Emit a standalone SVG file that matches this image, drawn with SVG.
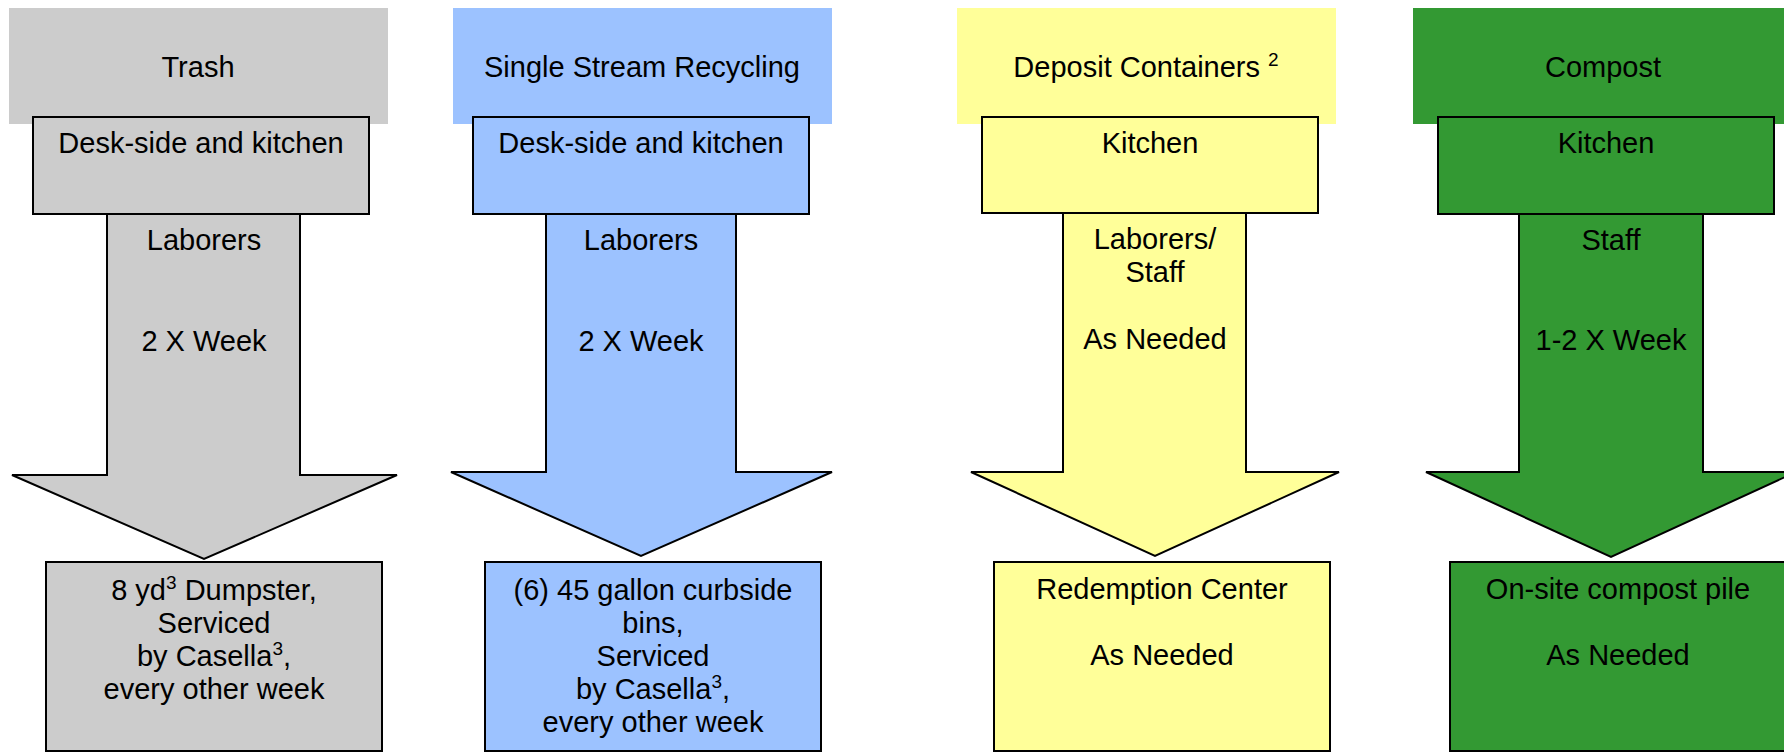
<svg xmlns="http://www.w3.org/2000/svg" width="1784" height="753" viewBox="0 0 1784 753">
<style>
text{font-family:"Liberation Sans",Arial,sans-serif;font-size:29px;fill:#000;text-anchor:middle}
.box,.arrow{stroke:#000;stroke-width:2}
.gray{fill:#CCCCCC}.blue{fill:#9CC2FF}.yellow{fill:#FFFF99}.green{fill:#339933}
.sup{font-size:19px}
</style>
<rect width="1784" height="753" fill="#fff"/>
<g id="headers">
<g id="h-trash"><rect class="gray" x="9" y="8" width="379" height="116"/><text x="198" y="77">Trash</text></g>
<g id="h-recycling"><rect class="blue" x="453" y="8" width="379" height="116"/><text x="642" y="77">Single Stream Recycling</text></g>
<g id="h-deposit"><rect class="yellow" x="957" y="8" width="379" height="116"/><text x="1146" y="77">Deposit Containers <tspan class="sup" dy="-11">2</tspan></text></g>
<g id="h-compost"><rect class="green" x="1413" y="8" width="379" height="116"/><text x="1603" y="77">Compost</text></g>
</g>
<g id="connectors">
<g id="a-trash"><polygon class="arrow gray" points="107,214 300,214 300,475 397,475 204,559 12,475 107,475"/><text x="204" y="250">Laborers</text><text x="204" y="351">2 X Week</text></g>
<g id="a-recycling"><polygon class="arrow blue" points="546,214 736,214 736,472 832,472 641,556 451,472 546,472"/><text x="641" y="250">Laborers</text><text x="641" y="351">2 X Week</text></g>
<g id="a-deposit"><polygon class="arrow yellow" points="1063,213 1246,213 1246,472 1339,472 1155,556 971,472 1063,472"/><text x="1155" y="249">Laborers/</text><text x="1155" y="282">Staff</text><text x="1155" y="349">As Needed</text></g>
<g id="a-compost"><polygon class="arrow green" points="1519,214 1703,214 1703,472 1796,472 1611,557 1426,472 1519,472"/><text x="1611" y="250">Staff</text><text x="1611" y="350">1-2 X Week</text></g>
</g>
<g id="sources">
<g id="s-trash"><rect class="box gray" x="33" y="117" width="336" height="97"/><text x="201" y="153">Desk-side and kitchen</text></g>
<g id="s-recycling"><rect class="box blue" x="473" y="117" width="336" height="97"/><text x="641" y="153">Desk-side and kitchen</text></g>
<g id="s-deposit"><rect class="box yellow" x="982" y="117" width="336" height="96"/><text x="1150" y="153">Kitchen</text></g>
<g id="s-compost"><rect class="box green" x="1438" y="117" width="336" height="97"/><text x="1606" y="153">Kitchen</text></g>
</g>
<g id="destinations">
<g id="d-trash"><rect class="box gray" x="46" y="562" width="336" height="189"/>
<text x="214" y="600">8 yd<tspan class="sup" dy="-11">3</tspan><tspan dy="11"> Dumpster,</tspan></text>
<text x="214" y="633">Serviced</text>
<text x="214" y="666">by Casella<tspan class="sup" dy="-11">3</tspan><tspan dy="11">,</tspan></text>
<text x="214" y="699">every other week</text></g>
<g id="d-recycling"><rect class="box blue" x="485" y="562" width="336" height="189"/>
<text x="653" y="600">(6) 45 gallon curbside</text>
<text x="653" y="633">bins,</text>
<text x="653" y="666">Serviced</text>
<text x="653" y="699">by Casella<tspan class="sup" dy="-11">3</tspan><tspan dy="11">,</tspan></text>
<text x="653" y="732">every other week</text></g>
<g id="d-deposit"><rect class="box yellow" x="994" y="562" width="336" height="189"/>
<text x="1162" y="599">Redemption Center</text>
<text x="1162" y="665">As Needed</text></g>
<g id="d-compost"><rect class="box green" x="1450" y="562" width="336" height="189"/>
<text x="1618" y="599">On-site compost pile</text>
<text x="1618" y="665">As Needed</text></g>
</g>
</svg>
